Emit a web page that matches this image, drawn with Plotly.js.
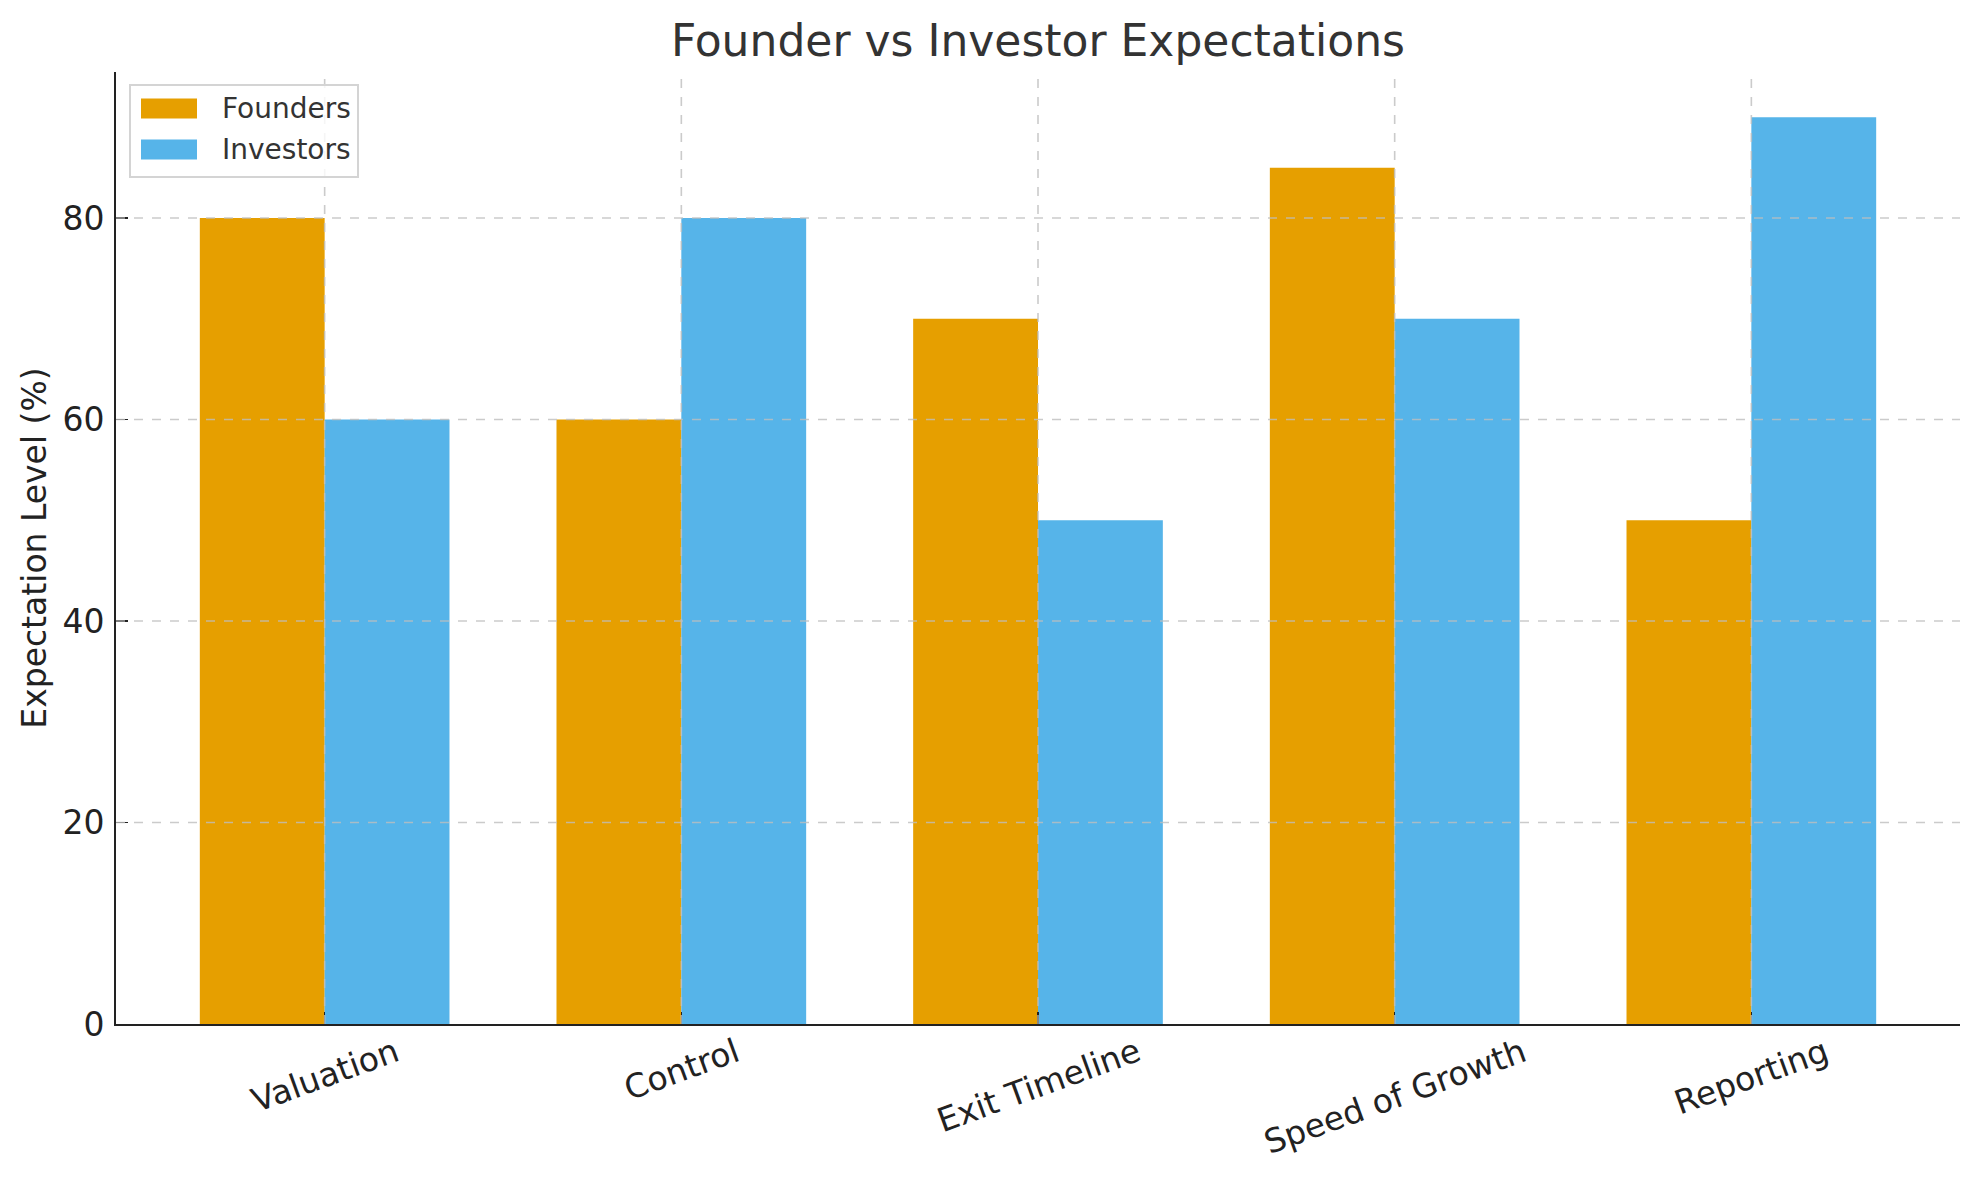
<!DOCTYPE html>
<html>
<head>
<meta charset="utf-8">
<script src="https://cdn.plot.ly/plotly-3.0.1.min.js"></script>
<style>html,body{margin:0;padding:0;background:#fff;}#chart{width:1979px;height:1180px;}</style>
</head>
<body>
<div id="chart"></div>
<script>
const categories = ["Valuation", "Control", "Exit Timeline", "Speed of Growth", "Reporting"];
const founders = [80, 60, 70, 85, 50];
const investors = [60, 80, 50, 70, 90];
const yTicks = [0, 20, 40, 60, 80];
const seriesNames = ["Founders", "Investors"];
const seriesColors = ["#E69F00", "#56B4E9"];
const titleText = "Founder vs Investor Expectations";
const yTitle = "Expectation Level (%)";

const font = "DejaVu Sans, Liberation Sans, sans-serif";
const gridStyle = {color: "rgba(190,190,190,0.8)", width: 1.6, dash: "dash"};

const W = 1979, H = 1180;
const M = {l: 116, r: 19, t: 72, b: 156};
const PW = W - M.l - M.r, PH = H - M.t - M.b;
const px = x => (x - M.l) / PW;
const py = y => (H - M.b - y) / PH;

const traces = [
  {type: "bar", name: seriesNames[0], x: categories, y: founders, marker: {color: seriesColors[0], line: {width: 0}}, showlegend: false},
  {type: "bar", name: seriesNames[1], x: categories, y: investors, marker: {color: seriesColors[1], line: {width: 0}}, showlegend: false}
];

const shapes = [];
categories.forEach(c => shapes.push({type: "line", layer: "above", xref: "x", yref: "paper", x0: c, x1: c, y0: 0, y1: 1, line: gridStyle}));
yTicks.filter(v => v > 0).forEach(v => shapes.push({type: "line", layer: "above", xref: "paper", yref: "y", x0: 0, x1: 1, y0: v, y1: v, line: gridStyle}));

// legend box
shapes.push({type: "rect", layer: "above", xref: "paper", yref: "paper",
  x0: px(130), x1: px(358), y0: py(177), y1: py(85),
  fillcolor: "rgba(255,255,255,0.8)", line: {color: "#d4d4d4", width: 2}});
const legendRows = [108.5, 149.5];
const annotations = [];
seriesNames.forEach((n, i) => {
  const yc = legendRows[i];
  shapes.push({type: "rect", layer: "above", xref: "paper", yref: "paper",
    x0: px(141), x1: px(197), y0: py(yc + 10), y1: py(yc - 10),
    fillcolor: seriesColors[i], line: {width: 0}});
  annotations.push({xref: "paper", yref: "paper", x: px(220), y: py(yc), xanchor: "left", yanchor: "middle",
    text: n, showarrow: false, font: {family: font, size: 28, color: "#333"}});
});

categories.forEach(c => annotations.push({
  x: c, xref: "x", y: 0, yref: "paper", yanchor: "top", xanchor: "center",
  yshift: -4, text: c, showarrow: false, textangle: -20,
  font: {family: font, size: 33, color: "#222"}
}));

const layout = {
  width: W, height: H,
  margin: M,
  paper_bgcolor: "#fff", plot_bgcolor: "#fff",
  font: {family: font, size: 33, color: "#222"},
  title: {text: titleText, x: 0.5245, xanchor: "center", y: 0.966, yanchor: "middle", font: {family: font, size: 44, color: "#333"}},
  barmode: "group", bargap: 0.3, bargroupgap: 0,
  xaxis: {
    type: "category", range: [-0.585, 4.585],
    showgrid: false, zeroline: false,
    showline: true, linecolor: "#222", linewidth: 2,
    ticks: "inside", ticklen: 12, tickwidth: 1.6, tickcolor: "#222",
    showticklabels: false
  },
  yaxis: {
    range: [0, 94.5], tickvals: yTicks, ticktext: yTicks.map(String),
    showgrid: false, zeroline: false,
    showline: true, linecolor: "#222", linewidth: 2,
    ticks: "inside", ticklen: 12, tickwidth: 1.6, tickcolor: "#222",
    ticklabelstandoff: 3,
    tickfont: {family: font, size: 33, color: "#222"},
    title: {text: yTitle, standoff: 6, font: {family: font, size: 33, color: "#222"}}
  },
  shapes: shapes,
  annotations: annotations,
  showlegend: false
};

Plotly.newPlot("chart", traces, layout, {displayModeBar: false, staticPlot: true});
</script>
</body>
</html>
